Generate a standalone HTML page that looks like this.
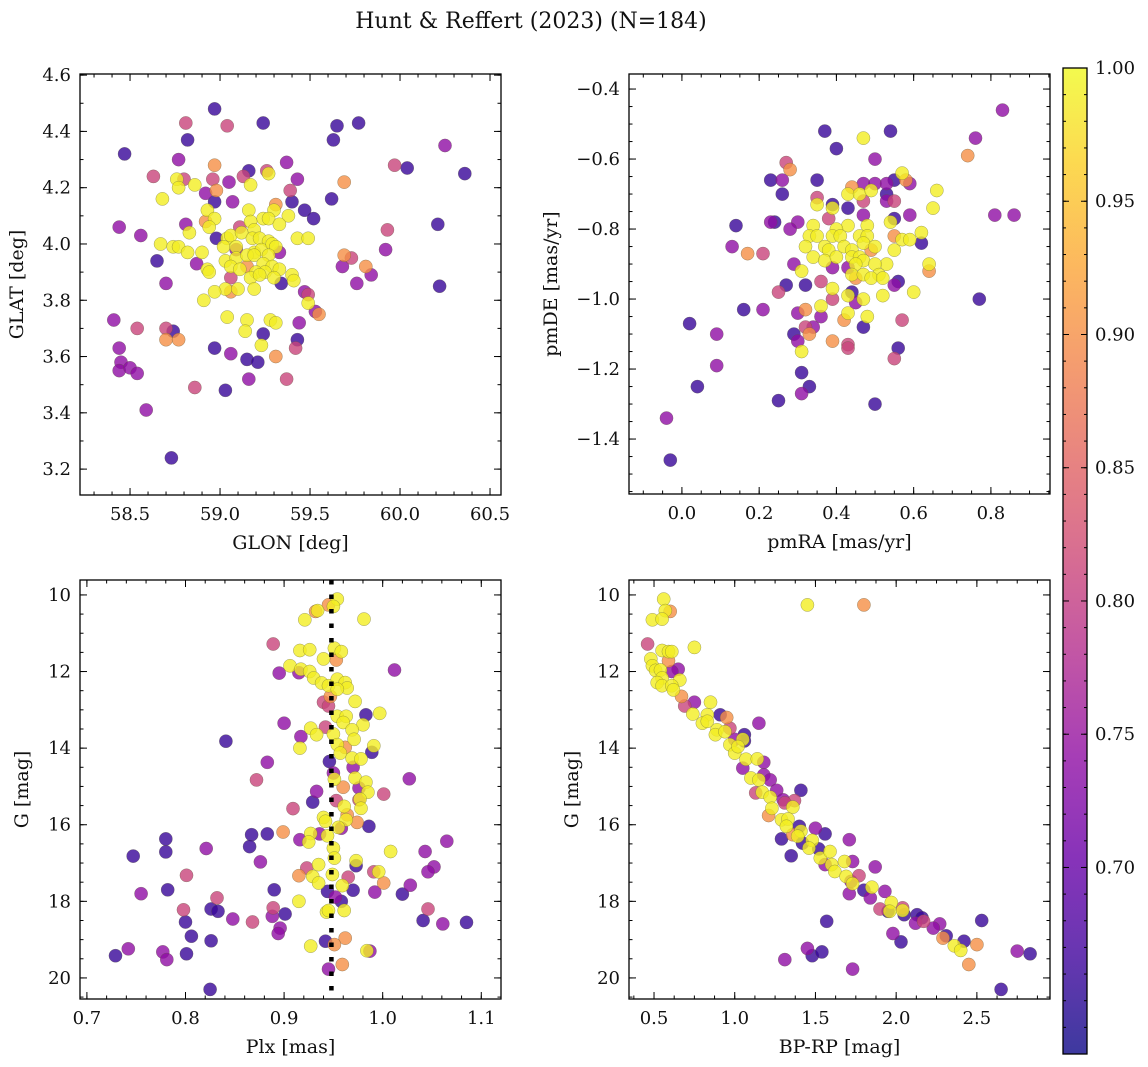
<!DOCTYPE html>
<html><head><meta charset="utf-8">
<style>
html,body{margin:0;padding:0;background:#fff;}
svg{display:block;font-family:"DejaVu Serif","Liberation Serif",serif;}
</style></head>
<body>
<svg id="fig" width="1148" height="1067" viewBox="0 0 1148 1067" xmlns="http://www.w3.org/2000/svg">
<text x="531" y="28" font-size="22" text-anchor="middle" fill="#111">Hunt &amp; Reffert (2023) (N=184)</text>
</svg>
<script>
// ---------- Panel 1: GLON vs GLAT ----------
const glonVals=[58.97,58.81,59.04,59.24,59.65,59.77,58.82,59.63,58.47,60.25,58.77,58.97,59.16,59.26,59.37,59.97,60.04,60.36,58.63,58.76,58.8,58.86,58.96,59.05,59.13,59.17,59.27,59.43,59.69,58.77,58.98,59.39,58.68,58.92,58.97,59.07,59.4,59.62,59.31,59.3,58.93,59.16,59.47,59.52,58.97,58.92,58.81,59.24,59.27,59.38,59.33,58.94,59.17,58.44,58.56,60.21,59.93,58.83,59.11,59.19,58.98,59.04,59.06,59.12,59.18,59.22,59.27,59.43,59.49,58.67,58.74,58.77,58.82,58.9,59.02,59.09,59.09,59.19,59.23,59.29,59.33,59.31,59.92,58.65,58.87,59.03,59.09,59.15,59.19,59.27,59.69,59.73,59.15,59.06,59.24,59.29,59.68,59.81,58.93,58.94,59.11,59.2,59.25,59.33,59.84,58.7,59.06,59.17,59.22,59.3,59.34,59.4,59.41,59.76,60.22,59.03,59.1,58.97,59.06,59.19,58.91,59.47,59.49,59.49,59.53,59.55,58.41,59.04,59.15,59.28,59.31,59.44,58.54,58.7,58.74,59.14,59.24,58.7,58.77,59.43,59.23,59.42,58.97,58.44,59.06,59.31,59.15,59.21,58.45,58.44,58.5,58.54,59.16,59.37,58.86,59.03,58.59,58.73];
const glatVals=[4.48,4.43,4.42,4.43,4.42,4.43,4.37,4.37,4.32,4.35,4.30,4.28,4.26,4.26,4.29,4.28,4.27,4.25,4.24,4.23,4.23,4.21,4.23,4.22,4.24,4.21,4.25,4.23,4.22,4.2,4.19,4.19,4.16,4.18,4.15,4.15,4.15,4.16,4.14,4.12,4.12,4.12,4.12,4.09,4.09,4.08,4.07,4.09,4.09,4.1,4.07,4.06,4.08,4.06,4.03,4.07,4.05,4.04,4.06,4.05,4.02,4.02,4.03,4.04,4.02,4.02,4.01,4.02,4.02,4.0,3.99,3.99,3.97,3.97,3.99,3.98,3.99,3.97,3.98,4.0,3.97,3.99,3.98,3.94,3.93,3.94,3.95,3.96,3.96,3.96,3.96,3.95,3.92,3.92,3.93,3.92,3.92,3.92,3.91,3.9,3.91,3.9,3.9,3.91,3.89,3.86,3.88,3.88,3.89,3.88,3.86,3.89,3.87,3.86,3.85,3.84,3.84,3.83,3.83,3.84,3.8,3.83,3.82,3.79,3.76,3.75,3.73,3.74,3.73,3.73,3.72,3.72,3.7,3.7,3.69,3.69,3.68,3.66,3.66,3.66,3.64,3.63,3.63,3.63,3.61,3.6,3.59,3.58,3.58,3.55,3.56,3.54,3.52,3.52,3.49,3.48,3.41,3.24];
const prob1=[.66,.81,.81,.66,.66,.66,.66,.66,.66,.74,.74,.90,.66,.81,.74,.81,.66,.66,.81,.99,.81,.99,.81,.74,.81,.99,.99,.74,.90,.99,.90,.81,.99,.74,.66,.74,.66,.66,.90,.99,.99,.99,.66,.66,.99,.90,.74,.99,.99,.99,.99,.99,.99,.74,.74,.66,.81,.99,.81,.99,.66,.99,.99,.99,.99,.99,.99,.99,.99,.99,.99,.99,.99,.99,.99,.74,.99,.99,.99,.99,.74,.99,.74,.66,.74,.99,.99,.99,.99,.99,.90,.81,.90,.99,.99,.99,.74,.90,.99,.99,.99,.99,.99,.99,.74,.74,.81,.99,.99,.99,.66,.99,.99,.74,.66,.99,.99,.99,.90,.99,.99,.74,.81,.99,.74,.90,.74,.99,.99,.99,.99,.74,.81,.81,.66,.99,.66,.90,.90,.66,.99,.81,.66,.74,.74,.90,.66,.66,.74,.74,.74,.74,.74,.81,.81,.66,.74,.66];

// ---------- Panel 2: pmRA vs pmDE ----------
const pmraVals=[0.83,0.37,0.54,0.47,0.40,0.76,0.74,0.50,0.27,0.28,0.23,0.26,0.35,0.57,0.44,0.47,0.50,0.53,0.55,0.59,0.58,0.26,0.35,0.35,0.43,0.46,0.49,0.47,0.53,0.55,0.53,0.66,0.39,0.39,0.43,0.65,0.47,0.59,0.55,0.14,0.23,0.24,0.30,0.28,0.38,0.34,0.43,0.48,0.54,0.40,0.33,0.35,0.39,0.41,0.46,0.48,0.55,0.57,0.59,0.62,0.62,0.13,0.17,0.21,0.32,0.37,0.38,0.42,0.44,0.47,0.49,0.50,0.55,0.34,0.37,0.40,0.44,0.46,0.47,0.53,0.29,0.31,0.39,0.43,0.45,0.50,0.64,0.64,0.44,0.47,0.51,0.45,0.49,0.52,0.36,0.27,0.32,0.25,0.56,0.55,0.39,0.44,0.60,0.39,0.43,0.47,0.52,0.77,0.16,0.21,0.32,0.36,0.45,0.30,0.36,0.43,0.48,0.02,0.42,0.57,0.32,0.34,0.47,0.09,0.33,0.29,0.30,0.39,0.43,0.43,0.31,0.56,0.55,0.09,0.31,0.33,0.31,0.04,0.25,0.50,-0.04,-0.03,0.81,0.86];
const pmdeVals=[-0.46,-0.52,-0.52,-0.54,-0.57,-0.54,-0.59,-0.60,-0.61,-0.63,-0.66,-0.66,-0.66,-0.64,-0.68,-0.67,-0.67,-0.67,-0.66,-0.67,-0.66,-0.70,-0.71,-0.73,-0.70,-0.70,-0.69,-0.72,-0.72,-0.72,-0.70,-0.69,-0.73,-0.74,-0.74,-0.74,-0.76,-0.76,-0.77,-0.79,-0.78,-0.78,-0.78,-0.80,-0.77,-0.79,-0.79,-0.79,-0.78,-0.80,-0.82,-0.82,-0.82,-0.82,-0.82,-0.82,-0.82,-0.83,-0.83,-0.81,-0.84,-0.85,-0.87,-0.87,-0.85,-0.85,-0.86,-0.85,-0.86,-0.84,-0.86,-0.85,-0.86,-0.88,-0.89,-0.88,-0.88,-0.88,-0.89,-0.90,-0.90,-0.92,-0.91,-0.91,-0.90,-0.90,-0.90,-0.92,-0.93,-0.93,-0.93,-0.94,-0.94,-0.94,-0.95,-0.96,-0.96,-0.98,-0.95,-0.96,-0.97,-0.98,-0.98,-1.00,-0.99,-1.00,-0.99,-1.00,-1.03,-1.03,-1.03,-1.02,-1.01,-1.04,-1.05,-1.04,-1.05,-1.07,-1.06,-1.06,-1.08,-1.08,-1.08,-1.10,-1.10,-1.10,-1.12,-1.12,-1.13,-1.14,-1.15,-1.14,-1.17,-1.19,-1.21,-1.25,-1.27,-1.25,-1.29,-1.30,-1.34,-1.46,-0.76,-0.76];
const prob2=[.74,.66,.66,.99,.66,.74,.90,.74,.81,.90,.66,.74,.66,.99,.90,.74,.74,.74,.66,.74,.90,.66,.81,.99,.99,.99,.99,.81,.74,.81,.66,.99,.66,.99,.66,.99,.74,.74,.66,.66,.74,.66,.74,.74,.81,.99,.99,.99,.99,.99,.99,.99,.99,.99,.99,.99,.90,.99,.99,.99,.66,.74,.90,.81,.99,.99,.99,.99,.99,.99,.90,.99,.99,.99,.99,.99,.99,.99,.99,.99,.74,.99,.74,.74,.99,.99,.99,.90,.99,.99,.99,.90,.99,.99,.81,.66,.66,.81,.66,.74,.99,.66,.99,.81,.99,.99,.99,.66,.66,.74,.90,.99,.74,.74,.74,.99,.99,.66,.90,.81,.81,.74,.66,.74,.90,.66,.74,.90,.81,.81,.99,.66,.81,.74,.66,.66,.74,.66,.66,.66,.74,.66,.74,.74];

// ---------- Panel 3: Plx vs G ----------
const plxVals=[0.954,0.945,0.950,0.932,0.934,0.921,0.981,0.889,0.916,0.926,0.951,0.958,0.940,0.953,0.906,0.915,0.917,0.895,0.926,0.930,0.938,0.945,0.954,0.962,0.964,0.954,1.012,0.947,0.940,0.945,0.972,0.983,0.997,0.900,0.954,0.963,0.960,0.980,0.927,0.942,0.969,0.917,0.933,0.950,0.971,0.841,0.916,0.962,0.954,0.991,0.989,0.957,0.969,0.978,0.946,0.883,0.970,0.950,0.951,0.972,0.983,1.027,0.872,0.960,0.976,0.985,1.001,0.933,0.929,0.953,0.976,0.977,0.909,0.961,0.978,0.940,0.942,0.964,0.963,0.974,0.955,0.958,0.986,0.899,0.927,0.936,0.944,0.925,0.916,0.883,0.867,0.865,0.780,0.780,0.747,0.821,0.876,0.950,1.008,1.043,1.065,0.951,0.973,0.973,0.935,0.923,0.929,0.915,0.949,0.965,0.991,0.996,1.052,1.046,0.801,0.935,0.959,1.001,0.970,0.992,1.028,1.020,0.944,0.890,0.782,0.755,0.832,0.952,0.958,0.915,0.798,0.826,0.833,0.889,0.943,0.945,0.961,1.046,0.848,0.868,0.888,0.901,0.800,1.041,1.061,1.085,0.896,0.894,0.806,0.826,0.962,0.942,0.951,0.927,0.984,0.987,0.742,0.729,0.777,0.801,0.781,0.959,0.945,0.825];
const gVals3=[10.11,10.26,10.30,10.43,10.41,10.65,10.63,11.28,11.45,11.43,11.39,11.48,11.67,11.70,11.85,12.03,11.94,12.04,12.0,12.17,12.30,12.37,12.20,12.29,12.43,12.46,11.96,12.65,12.80,12.90,12.78,13.13,13.09,13.35,13.17,13.17,13.33,13.39,13.48,13.45,13.52,13.70,13.65,13.63,13.77,13.82,14.0,13.98,13.91,13.94,14.11,14.13,14.26,14.28,14.35,14.37,14.5,14.65,14.81,14.78,14.89,14.80,14.83,15.02,15.04,15.15,15.20,15.13,15.41,15.37,15.35,15.33,15.58,15.52,15.57,15.81,15.91,15.74,15.87,15.94,16.07,16.09,16.04,16.19,16.23,16.24,16.29,16.45,16.39,16.24,16.26,16.57,16.37,16.71,16.82,16.62,16.97,16.61,16.70,16.70,16.43,16.87,16.94,17.07,17.04,17.13,17.35,17.33,17.30,17.37,17.23,17.23,17.10,17.23,17.32,17.52,17.59,17.52,17.71,17.76,17.58,17.81,17.74,17.70,17.70,17.80,17.91,17.89,18.0,18.0,18.22,18.20,18.26,18.17,18.28,18.24,18.24,18.20,18.46,18.54,18.39,18.33,18.54,18.50,18.59,18.55,18.70,18.84,18.91,19.03,18.96,19.04,19.13,19.17,19.29,19.30,19.24,19.42,19.32,19.37,19.52,19.65,19.77,20.30];
const prob3=[.99,.90,.99,.90,.99,.99,.99,.81,.99,.99,.99,.99,.99,.90,.99,.74,.99,.74,.99,.99,.99,.99,.99,.99,.99,.99,.74,.90,.81,.81,.99,.66,.99,.74,.99,.99,.99,.99,.99,.81,.99,.74,.99,.99,.99,.66,.99,.90,.99,.99,.66,.99,.99,.99,.66,.74,.74,.74,.99,.99,.99,.74,.81,.90,.74,.99,.81,.74,.66,.81,.81,.99,.81,.99,.99,.99,.99,.90,.99,.90,.99,.74,.66,.90,.99,.74,.99,.99,.74,.66,.66,.66,.66,.66,.66,.74,.74,.99,.99,.74,.74,.99,.99,.66,.99,.81,.99,.90,.99,.81,.81,.99,.74,.74,.81,.99,.99,.90,.66,.74,.74,.66,.66,.66,.66,.74,.81,.74,.66,.99,.81,.66,.66,.81,.99,.99,.99,.81,.74,.81,.74,.66,.66,.66,.74,.66,.74,.74,.66,.66,.90,.66,.90,.99,.99,.74,.74,.66,.74,.66,.74,.90,.74,.66];

// ---------- Panel 4: BP-RP vs G ----------
const bprpVals=[0.56,0.57,0.60,0.49,0.55,1.45,1.80,0.46,0.75,0.55,0.59,0.61,0.59,0.48,0.65,0.61,0.49,0.51,0.54,0.55,0.66,0.52,0.55,0.61,0.62,0.67,0.75,0.69,0.85,0.74,0.83,0.91,0.95,1.15,0.80,0.83,0.97,0.89,0.88,0.94,1.06,1.06,1.05,1.00,0.97,1.00,1.02,1.07,1.14,1.18,1.05,1.18,1.10,1.15,1.22,1.13,1.17,1.26,1.41,1.22,1.30,1.37,1.31,1.36,1.23,1.21,1.29,1.33,1.32,1.40,1.41,1.50,1.56,1.29,1.36,1.39,1.42,1.48,1.46,1.52,1.71,1.35,1.53,1.59,1.56,1.60,1.73,1.68,1.62,1.69,1.87,1.77,1.72,1.73,1.80,1.85,1.71,1.84,1.93,1.97,1.90,1.95,1.96,2.04,2.04,2.05,2.13,2.16,2.12,2.17,2.27,2.23,2.31,2.29,2.36,2.40,2.42,2.53,2.50,2.45,2.75,2.83,2.65,1.57,1.98,2.03,1.45,1.48,1.54,1.31,1.73];
const gVals4=[10.11,10.41,10.43,10.65,10.63,10.26,10.26,11.28,11.37,11.45,11.48,11.48,11.72,11.67,11.94,12.0,11.85,11.97,11.96,12.17,12.22,12.29,12.37,12.37,12.48,12.65,12.80,12.90,12.80,13.11,13.13,13.13,13.20,13.35,13.35,13.30,13.48,13.52,13.65,13.57,13.65,13.81,13.77,13.77,13.91,14.13,13.96,14.29,14.28,14.37,14.52,14.70,14.78,14.83,14.83,15.17,15.15,15.10,15.10,15.28,15.35,15.37,15.43,15.54,15.57,15.76,15.87,15.85,16.04,16.04,16.17,16.09,16.24,16.37,16.26,16.30,16.48,16.41,16.61,16.63,16.39,16.81,16.87,16.70,17.04,17.04,16.96,16.96,17.22,17.35,17.10,17.33,17.48,17.54,17.71,17.63,17.80,17.91,17.74,18.03,18.20,18.26,18.26,18.17,18.24,18.35,18.35,18.43,18.57,18.52,18.59,18.70,18.90,18.96,19.16,19.28,19.04,18.50,19.13,19.65,19.30,19.37,20.30,18.52,18.84,19.06,19.23,19.42,19.32,19.52,19.77];
const prob4=[.99,.99,.90,.99,.99,.99,.90,.81,.99,.99,.99,.99,.90,.99,.74,.74,.99,.99,.99,.99,.99,.99,.99,.99,.99,.90,.74,.81,.99,.99,.99,.66,.90,.74,.99,.99,.81,.99,.99,.99,.66,.66,.99,.74,.99,.99,.99,.99,.99,.74,.74,.74,.99,.99,.74,.81,.99,.74,.66,.99,.74,.81,.81,.99,.99,.90,.99,.99,.99,.66,.99,.74,.66,.66,.90,.99,.66,.99,.99,.66,.74,.66,.99,.99,.74,.99,.74,.99,.99,.99,.74,.81,.74,.99,.66,.99,.74,.74,.74,.99,.81,.66,.99,.81,.99,.66,.66,.66,.74,.81,.74,.74,.66,.90,.99,.99,.66,.66,.90,.90,.74,.66,.66,.66,.74,.66,.74,.66,.66,.74,.74];

// ---------- Colorbar ----------
const cbarTicks=[0.70,0.75,0.80,0.85,0.90,0.95,1.00];
const cbarMin=0.63, cbarMax=1.0;

const NS="http://www.w3.org/2000/svg";
const svg=document.getElementById('fig');
function el(tag,attrs,parent){const e=document.createElementNS(NS,tag);for(const k in attrs)e.setAttribute(k,attrs[k]);(parent||svg).appendChild(e);return e;}

const plasma=[[13,8,135],[65,4,157],[106,0,168],[143,13,164],[177,42,144],[204,71,120],[225,100,98],[242,132,75],[252,166,54],[252,206,37],[240,249,33]];
function cmap(v){let t=(v-cbarMin)/(cbarMax-cbarMin);t=Math.max(0,Math.min(1,t))*10;const i=Math.min(9,Math.floor(t));const f=t-i;const a=plasma[i],b=plasma[i+1];return 'rgb('+[0,1,2].map(k=>Math.round(a[k]+(b[k]-a[k])*f)).join(',')+')';}

function fmt(v,d){const s=Math.abs(v).toFixed(d);return (v<-1e-9?'\u2212':'')+s;}

function panel(cfg){
  const g=el('g',{});
  
  
  const sx=v=>cfg.x0+(v-cfg.xd[0])/(cfg.xd[1]-cfg.xd[0])*(cfg.x1-cfg.x0);
  const sy=v=>cfg.y0+(v-cfg.yd[0])/(cfg.yd[1]-cfg.yd[0])*(cfg.y1-cfg.y0);
  const idx=[];const n=Math.min(cfg.xs.length,cfg.ys.length,cfg.ps.length);
  for(let i=0;i<n;i++)idx.push(i);
  idx.sort((a,b)=>cfg.ps[a]-cfg.ps[b]);
  const pg=el('g',{},g);
  
  
  idx.forEach(i=>{
    const c=el('circle',{cx:sx(cfg.xs[i]).toFixed(1),cy:sy(cfg.ys[i]).toFixed(1),r:6.6,fill:cmap(cfg.ps[i]),'fill-opacity':0.8,stroke:'rgba(90,90,60,0.55)','stroke-width':0.5},pg);
    
    
  });
  if(cfg.vline!==undefined){
    const l=el('line',{x1:sx(cfg.vline),x2:sx(cfg.vline),y1:cfg.y0,y2:cfg.y1,stroke:'#000','stroke-width':4.5,'stroke-dasharray':'4.5 10'},g);
    
    
  }
  const fr=el('rect',{x:cfg.x0,y:cfg.y0,width:cfg.x1-cfg.x0,height:cfg.y1-cfg.y0,fill:'none',stroke:'#000','stroke-width':1.3},g);
  
  
  const tg=el('g',{stroke:'#000','stroke-width':1},g);
  const xmin=Math.min(...cfg.xd),xmax=Math.max(...cfg.xd),ymin=Math.min(...cfg.yd),ymax=Math.max(...cfg.yd);
  for(let k=Math.ceil(xmin/cfg.xminor-1e-6);k*cfg.xminor<=xmax+1e-9;k++){const X=sx(k*cfg.xminor);el('line',{x1:X,x2:X,y1:cfg.y1,y2:cfg.y1-3.5},tg);el('line',{x1:X,x2:X,y1:cfg.y0,y2:cfg.y0+3.5},tg);}
  for(let k=Math.ceil(ymin/cfg.yminor-1e-6);k*cfg.yminor<=ymax+1e-9;k++){const Y=sy(k*cfg.yminor);el('line',{x1:cfg.x0,x2:cfg.x0+3.5,y1:Y,y2:Y},tg);el('line',{x1:cfg.x1,x2:cfg.x1-3.5,y1:Y,y2:Y},tg);}
  cfg.xticks.forEach(v=>{const X=sx(v);el('line',{x1:X,x2:X,y1:cfg.y1,y2:cfg.y1-7},tg);el('line',{x1:X,x2:X,y1:cfg.y0,y2:cfg.y0+7},tg);
    const t=el('text',{x:X,y:cfg.y1+25,'font-size':18,'text-anchor':'middle',fill:'#111'},g);t.textContent=fmt(v,cfg.xdec);
    });
  cfg.yticks.forEach(v=>{const Y=sy(v);el('line',{x1:cfg.x0,x2:cfg.x0+7,y1:Y,y2:Y},tg);el('line',{x1:cfg.x1,x2:cfg.x1-7,y1:Y,y2:Y},tg);
    const t=el('text',{x:cfg.x0-9,y:Y+6,'font-size':18,'text-anchor':'end',fill:'#111'},g);t.textContent=fmt(v,cfg.ydec);
    });
  const xl=el('text',{x:(cfg.x0+cfg.x1)/2,y:cfg.y1+54,'font-size':19,'text-anchor':'middle',fill:'#111'},g);xl.textContent=cfg.xlabel;
  
  const yx=cfg.ylx, yy=(cfg.y0+cfg.y1)/2;
  const yl=el('text',{x:yx,y:yy,'font-size':19,'text-anchor':'middle',fill:'#111',transform:'rotate(-90 '+yx+' '+yy+')'},g);yl.textContent=cfg.ylabel;
  
}

function range(a,b,s){const r=[];for(let v=a;v<=b+1e-9;v+=s)r.push(Math.round(v*1000)/1000);return r;}

panel({name:'panel-glon-glat',x0:80,x1:501,y0:74,y1:495,xd:[58.222,60.561],yd:[4.604,3.108],xs:glonVals,ys:glatVals,ps:prob1,
  xticks:range(58.5,60.5,0.5),yticks:range(3.2,4.6,0.2),xminor:0.1,yminor:0.1,xdec:1,ydec:1,xlabel:'GLON [deg]',ylabel:'GLAT [deg]',ylx:23});
panel({name:'panel-pmra-pmde',x0:629,x1:1050,y0:74,y1:494,xd:[-0.137,0.953],yd:[-0.357,-1.557],xs:pmraVals,ys:pmdeVals,ps:prob2,
  xticks:range(0,0.8,0.2),yticks:range(-1.4,-0.4,0.2),xminor:0.05,yminor:0.05,xdec:1,ydec:1,xlabel:'pmRA [mas/yr]',ylabel:'pmDE [mas/yr]',ylx:557});
panel({name:'panel-plx-g',x0:80,x1:501,y0:580,y1:999,xd:[0.693,1.120],yd:[9.61,20.55],xs:plxVals,ys:gVals3,ps:prob3,vline:0.948,
  xticks:range(0.7,1.1,0.1),yticks:range(10,20,2),xminor:0.02,yminor:0.5,xdec:1,ydec:0,xlabel:'Plx [mas]',ylabel:'G [mag]',ylx:28});
panel({name:'panel-color-magnitude',x0:629,x1:1050,y0:580,y1:999,xd:[0.345,2.953],yd:[9.61,20.55],xs:bprpVals,ys:gVals4,ps:prob4,
  xticks:range(0.5,2.5,0.5),yticks:range(10,20,2),xminor:0.125,yminor:0.5,xdec:1,ydec:0,xlabel:'BP-RP [mag]',ylabel:'G [mag]',ylx:578});

(function(){
  const cx0=1063,cx1=1087,cy0=68,cy1=1054;
  const cg=el('g',{});
  
  
  const defs=el('defs',{},cg);
  const lg=el('linearGradient',{id:'cbgrad',x1:0,y1:1,x2:0,y2:0},defs);
  for(let i=0;i<=20;i++){const v=cbarMin+(cbarMax-cbarMin)*i/20;el('stop',{offset:(i/20),'stop-color':cmap(v),'stop-opacity':0.8},lg);}
  const r=el('rect',{x:cx0,y:cy0,width:cx1-cx0,height:cy1-cy0,fill:'url(#cbgrad)',stroke:'#000','stroke-width':1.3},cg);
  
  
  const sy=v=>cy1-(v-cbarMin)/(cbarMax-cbarMin)*(cy1-cy0);
  for(let k=Math.ceil(cbarMin/0.01);k*0.01<=cbarMax+1e-9;k++){const Y=sy(k*0.01);el('line',{x1:cx0,x2:cx0+3,y1:Y,y2:Y,stroke:'#000'},cg);el('line',{x1:cx1,x2:cx1-3,y1:Y,y2:Y,stroke:'#000'},cg);}
  cbarTicks.forEach(v=>{const Y=sy(v);el('line',{x1:cx0,x2:cx0+6,y1:Y,y2:Y,stroke:'#000'},cg);el('line',{x1:cx1,x2:cx1-6,y1:Y,y2:Y,stroke:'#000'},cg);
    const t=el('text',{x:cx1+8,y:Y+6,'font-size':18,fill:'#111'},cg);t.textContent=v.toFixed(2);
    });
})();
</script>
</body></html>
